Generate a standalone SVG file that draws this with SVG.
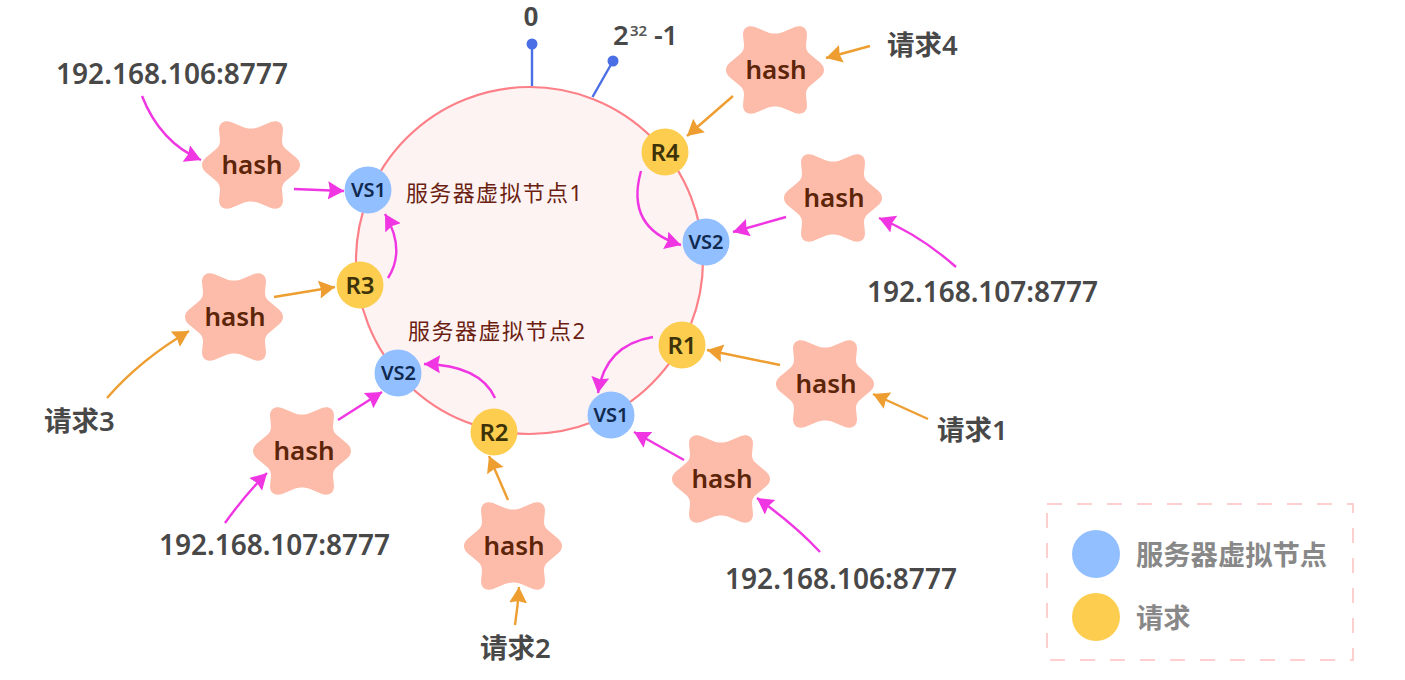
<svg xmlns="http://www.w3.org/2000/svg" width="1405" height="680" viewBox="0 0 1405 680">
<style>
text{font-family:"Noto Sans","Noto Sans CJK SC",sans-serif}
.ip{font-size:28px;font-weight:600;fill:#484848}
.lab{font-size:27.500px;font-weight:600;fill:#484848}
.h{font-size:26px;font-weight:600;fill:#5c2408;text-anchor:middle}
.s{fill:#fdbcaa}
.n{font-size:24px;font-weight:600;fill:#3d3208;text-anchor:middle}
.v{font-size:20px;font-weight:600;fill:#10294f;text-anchor:middle}
.c{font-size:22px;fill:#6b1f12}
.lg{font-size:27.300px;font-weight:600;fill:#888}
.b{fill:#92bfff}.y{fill:#fccd4e}
.p,.o{fill:none;stroke-width:2.400}
.p{stroke:#f035e2;marker-end:url(#mp)}
.o{stroke:#ee9e30;marker-end:url(#mo)}
.pin{stroke:#4a6ee6;stroke-width:2.400;fill:none}
</style>
<defs>
<marker id="mp" markerUnits="userSpaceOnUse" markerWidth="20" markerHeight="20" refX="16" refY="9" orient="auto"><path d="M0 0L16 9L0 18L2 9Z" fill="#f035e2"/></marker>
<marker id="mo" markerUnits="userSpaceOnUse" markerWidth="20" markerHeight="20" refX="16" refY="9" orient="auto"><path d="M0 0L16 9L0 18L2 9Z" fill="#ee9e30"/></marker>
<path id="star" d="M-49 0C-49-4-46-7-42-10L-36-15C-32-18-31-21-31-25L-32-35C-32-43-26-45-20-43L-8-38C-3-36 3-36 8-38L20-43C26-45 32-43 32-35L31-25C31-21 32-18 36-15L42-10C46-7 49-4 49 0C49 4 46 7 42 10L36 15C32 18 31 21 31 25L32 35C32 43 26 45 20 43L8 38C3 36-3 36-8 38L-20 43C-26 45-32 43-32 35L-31 25C-31 21-32 18-36 15L-42 10C-46 7-49 4-49 0Z"/>
</defs>

<g id="ring"><circle cx="529.500" cy="260.500" r="173.500" fill="#fef3f3" stroke="#fd7f87" stroke-width="2.200"/></g>
<g id="pin-0"><line class="pin" x1="532" y1="44" x2="532" y2="86"/><circle cx="532" cy="44" r="5.500" fill="#4a6ee6"/><text x="531" y="25.500" text-anchor="middle" font-size="27" font-weight="700" fill="#484848" style="font-family:'Liberation Sans',sans-serif">0</text></g>
<g id="pin-max"><line class="pin" x1="613" y1="61" x2="592.500" y2="97"/><circle cx="613" cy="61" r="5.500" fill="#4a6ee6"/><text class="lab" x="613" y="45">2</text><text x="630" y="36" font-size="15" font-weight="600" fill="#555">32</text><text class="lab" x="654" y="45" textLength="24">-1</text></g>

<g id="connectors">
<path class="p" d="M142 96Q160 142 201 160"/>
<path class="p" d="M294 189L344 191"/>
<path class="p" d="M388 278Q406 250 385 214"/>
<path class="p" d="M786 217L733 232"/>
<path class="p" d="M956 267Q920 235 879 218"/>
<path class="p" d="M641 171Q625 228 681 245"/>
<path class="p" d="M653 337Q605 345 598 393"/>
<path class="p" d="M684 460L634 432"/>
<path class="p" d="M820 552Q795 525 757 498"/>
<path class="p" d="M495 398Q480 365 424 364"/>
<path class="p" d="M338 420L382 392"/>
<path class="p" d="M225 523Q245 495 267 473"/>
<path class="o" d="M870 46L826 58"/>
<path class="o" d="M733 96L687 136"/>
<path class="o" d="M780 365L707 350"/>
<path class="o" d="M928 419L873 394"/>
<path class="o" d="M508 500L489 456"/>
<path class="o" d="M515 625Q518 605 519 587"/>
<path class="o" d="M107 398Q140 360 189 331"/>
<path class="o" d="M274 297L335 287"/>
</g>

<g id="hash-1"><use href="#star" class="s" x="251" y="165"/><text class="h" x="252" y="174">hash</text></g>
<g id="hash-2"><use href="#star" class="s" x="234" y="317"/><text class="h" x="235" y="326">hash</text></g>
<g id="hash-3"><use href="#star" class="s" x="302" y="451"/><text class="h" x="304" y="460">hash</text></g>
<g id="hash-4"><use href="#star" class="s" x="513" y="546"/><text class="h" x="514" y="555">hash</text></g>
<g id="hash-5"><use href="#star" class="s" x="721" y="479"/><text class="h" x="722" y="488">hash</text></g>
<g id="hash-6"><use href="#star" class="s" x="825" y="384"/><text class="h" x="826" y="393">hash</text></g>
<g id="hash-7"><use href="#star" class="s" x="833" y="198"/><text class="h" x="834" y="207">hash</text></g>
<g id="hash-8"><use href="#star" class="s" x="775" y="70"/><text class="h" x="776" y="79">hash</text></g>

<g id="vs1-a"><circle class="b" cx="368" cy="190" r="23.500"/><text class="v" x="368.500" y="197">VS1</text></g>
<g id="r3"><circle class="y" cx="360" cy="285" r="23.500"/><text class="n" x="360" y="294">R3</text></g>
<g id="vs2-a"><circle class="b" cx="398" cy="373" r="23.500"/><text class="v" x="398.500" y="380">VS2</text></g>
<g id="r2"><circle class="y" cx="494" cy="432" r="23.500"/><text class="n" x="494" y="441">R2</text></g>
<g id="vs1-b"><circle class="b" cx="611" cy="415" r="23.500"/><text class="v" x="611" y="422">VS1</text></g>
<g id="r1"><circle class="y" cx="682" cy="345" r="23.500"/><text class="n" x="682" y="354">R1</text></g>
<g id="vs2-b"><circle class="b" cx="706" cy="242" r="23.500"/><text class="v" x="706" y="249">VS2</text></g>
<g id="r4"><circle class="y" cx="665" cy="152" r="23.500"/><text class="n" x="665" y="161">R4</text></g>

<g id="labels">
<text class="c" x="406" y="201" textLength="176" lengthAdjust="spacing">服务器虚拟节点1</text>
<text class="c" x="408" y="339" textLength="177" lengthAdjust="spacing">服务器虚拟节点2</text>
<text class="ip" x="56" y="84" textLength="232">192.168.106:8777</text>
<text class="ip" x="867" y="302" textLength="231">192.168.107:8777</text>
<text class="ip" x="725" y="589" textLength="232">192.168.106:8777</text>
<text class="ip" x="159" y="555" textLength="231">192.168.107:8777</text>
<text class="lab" x="887" y="55">请求4</text>
<text class="lab" x="44" y="431">请求3</text>
<text class="lab" x="937" y="440">请求1</text>
<text class="lab" x="480" y="658">请求2</text>
</g>

<g id="legend">
<rect x="1047" y="504" width="306" height="156" fill="none" stroke="#fdcfcf" stroke-width="2" stroke-dasharray="15 15"/>
<circle class="b" cx="1096" cy="554" r="24"/><text class="lg" x="1136" y="565">服务器虚拟节点</text>
<circle class="y" cx="1096" cy="617" r="24"/><text class="lg" x="1136" y="628">请求</text>
</g>
</svg>
